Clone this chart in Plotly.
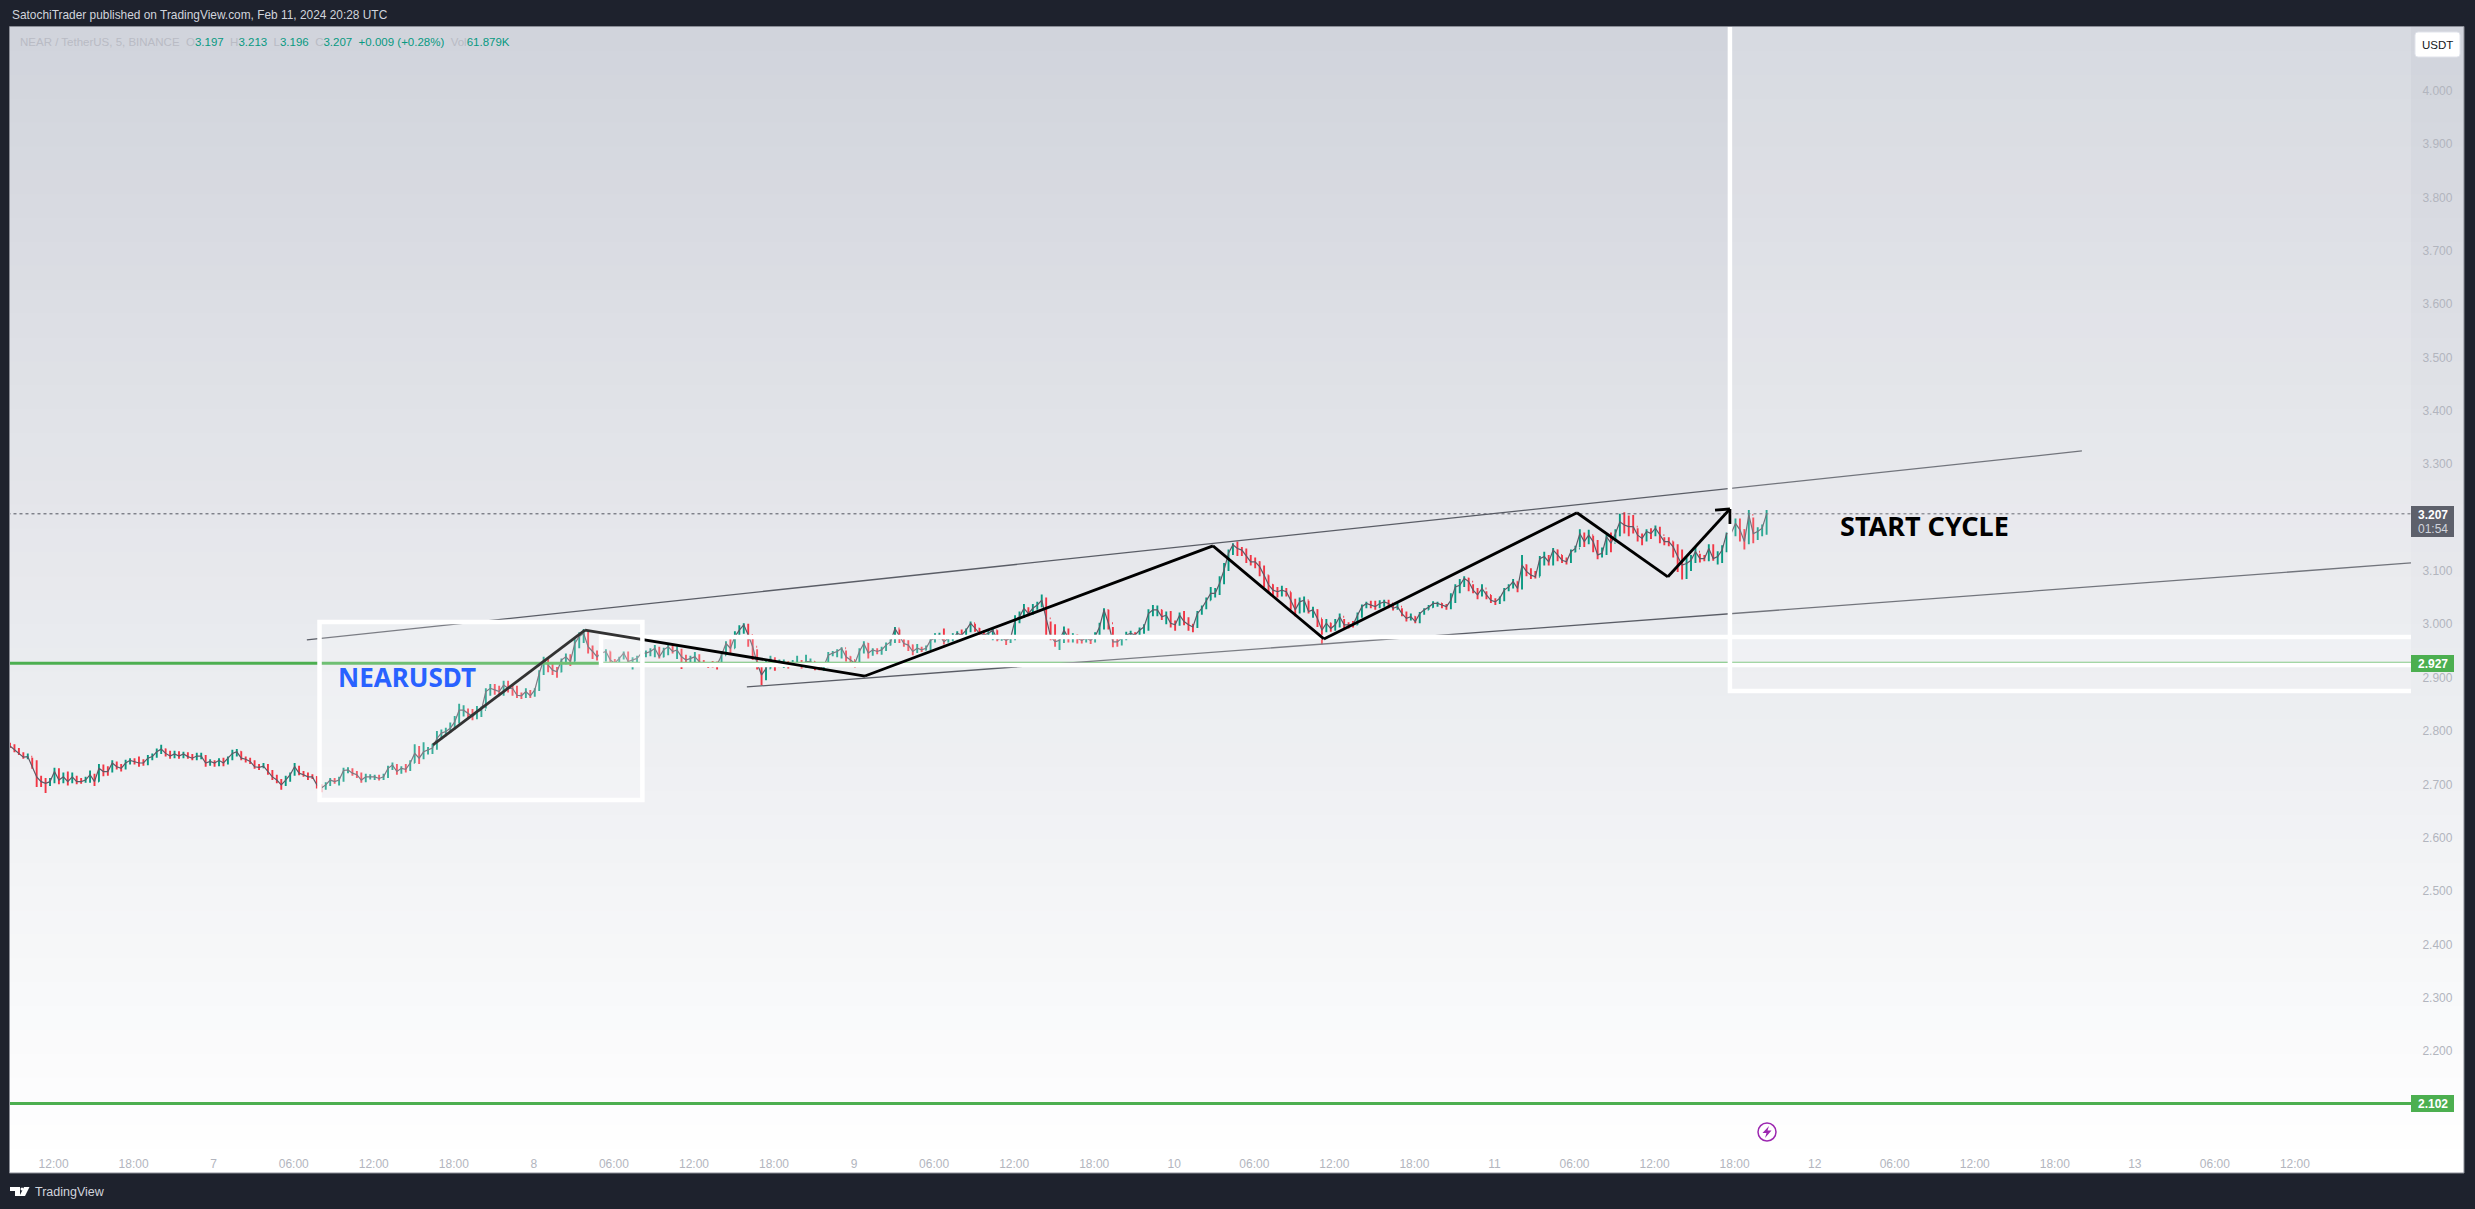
import pandas as pd
import plotly.graph_objects as go

# ---------- data (20-minute bars, estimated) ----------
bar_start = "2024-02-06 08:44"
first_open = 2.775
closes = [
 2.772,2.765,2.758,2.751,2.752,2.733,2.714,2.705,2.702,2.705,
 2.724,2.708,2.714,2.705,2.714,2.705,2.705,2.708,2.718,2.705,
 2.730,2.724,2.724,2.740,2.733,2.730,2.740,2.745,2.743,2.740,
 2.740,2.749,2.752,2.761,2.766,2.758,2.753,2.757,2.753,2.757,
 2.752,2.749,2.753,2.753,2.740,2.743,2.740,2.745,2.740,2.749,
 2.758,2.761,2.749,2.747,2.743,2.733,2.732,2.734,2.724,2.714,
 2.708,2.699,2.708,2.718,2.733,2.721,2.718,2.714,2.714,2.699,
 2.693,2.699,2.708,2.705,2.708,2.726,2.727,2.721,2.718,2.708,
 2.714,2.714,2.714,2.711,2.714,2.730,2.736,2.724,2.730,2.728,
 2.740,2.758,2.749,2.761,2.764,2.768,2.786,2.796,2.799,
 2.805,2.817,2.839,2.839,2.833,2.827,2.836,2.839,2.874,2.880,
 2.877,2.874,2.886,2.880,2.880,2.867,2.866,2.874,2.866,2.877,
 2.908,2.933,2.924,2.914,2.911,2.933,2.939,2.930,2.964,2.977,
 2.983,2.958,2.949,2.939,2.946,2.949,2.933,2.927,2.936,2.946,
 2.930,2.933,2.936,2.946,2.946,2.949,2.955,2.939,2.952,2.958,
 2.949,2.952,2.939,2.933,2.936,2.939,2.930,2.924,2.924,2.924,
 2.924,2.942,2.964,2.955,2.977,2.989,2.999,2.980,2.958,2.927,
 2.905,2.917,2.936,2.921,2.927,2.927,2.924,2.927,2.927,2.924,
 2.930,2.930,2.924,2.917,2.921,2.942,2.946,2.949,2.955,2.939,
 2.933,2.927,2.949,2.964,2.946,2.952,2.949,2.952,2.961,
 2.967,2.992,2.977,2.964,2.961,2.949,2.955,2.952,2.955,2.970,
 2.974,2.980,2.967,2.974,2.974,2.983,2.980,2.989,3.002,2.992,
 2.983,2.980,2.983,2.989,2.972,2.974,2.970,2.974,3.008,3.014,
 3.030,3.020,3.030,3.036,3.045,3.011,2.977,2.967,2.970,2.989,
 2.974,2.977,2.974,2.970,2.974,2.970,2.977,2.995,3.027,3.002,
 2.967,2.967,2.974,2.980,2.983,2.980,2.989,2.995,3.020,3.027,
 3.027,3.014,3.017,3.002,2.999,3.017,3.005,2.999,2.995,3.020,
 3.030,3.045,3.058,3.058,3.077,3.102,3.133,3.149,3.142,3.139,
 3.127,3.117,3.117,3.108,3.092,3.074,3.064,3.061,3.064,3.061,
 3.045,3.027,3.042,3.045,3.024,3.027,3.011,2.989,3.002,
 2.992,2.999,3.014,2.999,2.999,2.999,3.017,3.033,3.039,3.036,
 3.033,3.039,3.042,3.039,3.030,3.033,3.020,3.011,3.014,3.005,
 3.020,3.027,3.032,3.039,3.039,3.036,3.033,3.045,3.070,3.073,
 3.086,3.080,3.064,3.055,3.067,3.055,3.045,3.042,3.049,3.064,
 3.070,3.080,3.067,3.111,3.099,3.092,3.089,3.123,3.127,3.117,
 3.139,3.130,3.120,3.117,3.136,3.142,3.170,3.155,3.167,3.155,
 3.130,3.133,3.164,3.152,3.170,3.192,3.186,3.183,3.183,3.167,
 3.161,3.174,3.170,3.180,3.167,3.155,3.155,3.145,3.127,3.111,
 3.114,3.120,3.136,3.123,3.123,3.142,3.123,3.127,3.139,3.170,
 3.170,3.189,3.177,3.155,3.205,3.170,3.174,3.180,3.207,
]
highs = [
 2.778,2.775,2.768,2.760,2.758,2.750,2.745,2.716,2.712,2.712,
 2.731,2.730,2.722,2.724,2.722,2.716,2.712,2.714,2.726,2.720,
 2.738,2.737,2.734,2.745,2.743,2.738,2.746,2.749,2.749,2.752,
 2.747,2.755,2.758,2.767,2.774,2.767,2.763,2.763,2.762,2.761,
 2.760,2.757,2.759,2.759,2.755,2.747,2.745,2.749,2.750,2.752,
 2.765,2.766,2.762,2.752,2.750,2.745,2.738,2.740,2.738,2.727,
 2.718,2.710,2.716,2.722,2.740,2.735,2.725,2.722,2.719,2.715,
 2.700,2.704,2.712,2.712,2.714,2.731,2.732,2.730,2.725,2.722,
 2.720,2.719,2.718,2.718,2.720,2.735,2.741,2.738,2.734,2.738,
 2.745,2.775,2.772,2.779,2.770,2.776,2.800,2.803,2.806,
 2.816,2.828,2.851,2.848,2.842,2.841,2.847,2.846,2.880,2.888,
 2.888,2.885,2.894,2.894,2.887,2.885,2.872,2.880,2.877,2.880,
 2.914,2.939,2.935,2.929,2.920,2.936,2.945,2.944,2.972,2.985,
 2.991,2.986,2.960,2.951,2.950,2.953,2.949,2.935,2.939,2.949,
 2.949,2.938,2.941,2.950,2.951,2.955,2.961,2.958,2.956,2.963,
 2.961,2.959,2.954,2.943,2.941,2.948,2.944,2.933,2.929,2.931,
 2.930,2.950,2.968,2.972,2.987,2.998,3.002,3.001,2.975,2.953,
 2.927,2.931,2.941,2.938,2.934,2.934,2.931,2.933,2.941,2.933,
 2.943,2.936,2.930,2.927,2.928,2.948,2.950,2.953,2.957,2.951,
 2.940,2.932,2.955,2.968,2.965,2.955,2.955,2.958,2.966,
 2.972,2.995,2.990,2.972,2.970,2.962,2.963,2.958,2.960,2.975,
 2.983,2.984,2.992,2.979,2.983,2.987,2.990,2.992,3.005,3.001,
 2.993,2.989,2.987,2.993,2.989,2.979,2.978,2.980,3.017,3.024,
 3.038,3.032,3.038,3.042,3.056,3.050,3.005,3.000,2.980,2.996,
 2.992,2.983,2.981,2.980,2.980,2.978,2.985,3.003,3.030,3.027,
 2.995,2.975,2.977,2.986,2.988,2.985,2.994,3.000,3.028,3.036,
 3.035,3.027,3.024,3.025,3.007,3.022,3.025,3.013,3.000,3.025,
 3.035,3.050,3.070,3.068,3.090,3.115,3.140,3.152,3.155,3.145,
 3.142,3.130,3.125,3.118,3.110,3.092,3.075,3.070,3.072,3.068,
 3.060,3.048,3.050,3.052,3.044,3.033,3.028,3.010,3.010,
 3.003,3.010,3.020,3.010,3.004,3.006,3.022,3.037,3.042,3.044,
 3.044,3.045,3.046,3.046,3.040,3.040,3.030,3.024,3.020,3.015,
 3.023,3.030,3.036,3.043,3.042,3.040,3.038,3.058,3.075,3.085,
 3.090,3.087,3.075,3.068,3.075,3.062,3.055,3.049,3.052,3.068,
 3.075,3.085,3.080,3.130,3.112,3.105,3.100,3.128,3.136,3.130,
 3.143,3.140,3.130,3.125,3.140,3.147,3.178,3.172,3.177,3.166,
 3.158,3.144,3.168,3.172,3.178,3.207,3.210,3.204,3.205,3.180,
 3.170,3.178,3.180,3.185,3.183,3.163,3.163,3.155,3.150,3.140,
 3.125,3.130,3.144,3.132,3.130,3.150,3.150,3.137,3.148,3.172,
 3.178,3.198,3.198,3.178,3.214,3.200,3.182,3.187,3.214,
]
lows = [
 2.768,2.760,2.755,2.748,2.747,2.729,2.695,2.695,2.684,2.697,
 2.702,2.700,2.702,2.698,2.702,2.700,2.701,2.703,2.703,2.697,
 2.705,2.715,2.716,2.722,2.728,2.724,2.728,2.737,2.737,2.733,
 2.735,2.736,2.745,2.750,2.757,2.752,2.748,2.749,2.748,2.749,
 2.748,2.745,2.745,2.747,2.733,2.735,2.733,2.734,2.734,2.737,
 2.745,2.752,2.745,2.741,2.738,2.729,2.727,2.730,2.718,2.708,
 2.702,2.690,2.697,2.705,2.716,2.717,2.714,2.708,2.710,2.692,
 2.685,2.690,2.697,2.701,2.698,2.705,2.721,2.716,2.712,2.703,
 2.704,2.709,2.708,2.707,2.708,2.712,2.727,2.718,2.720,2.722,
 2.725,2.740,2.738,2.747,2.756,2.757,2.765,2.784,2.790,
 2.796,2.803,2.814,2.827,2.824,2.820,2.822,2.826,2.842,2.866,
 2.868,2.865,2.866,2.872,2.866,2.862,2.860,2.862,2.862,2.864,
 2.875,2.905,2.910,2.905,2.900,2.910,2.925,2.922,2.930,2.955,
 2.965,2.945,2.935,2.932,2.935,2.930,2.924,2.922,2.924,2.934,
 2.922,2.915,2.925,2.930,2.938,2.940,2.938,2.936,2.938,2.942,
 2.945,2.935,2.916,2.925,2.928,2.928,2.921,2.920,2.918,2.919,
 2.915,2.925,2.942,2.945,2.955,2.975,2.982,2.958,2.933,2.915,
 2.886,2.895,2.917,2.913,2.920,2.918,2.917,2.920,2.920,2.917,
 2.918,2.920,2.914,2.914,2.913,2.920,2.940,2.938,2.936,2.930,
 2.925,2.919,2.925,2.945,2.936,2.941,2.944,2.943,2.950,
 2.960,2.965,2.965,2.958,2.950,2.942,2.946,2.948,2.951,2.952,
 2.966,2.972,2.962,2.966,2.968,2.972,2.973,2.978,2.985,2.986,
 2.978,2.972,2.975,2.970,2.968,2.969,2.961,2.965,2.970,3.002,
 3.012,3.015,3.018,3.027,3.032,2.977,2.970,2.958,2.952,2.965,
 2.966,2.966,2.964,2.964,2.966,2.963,2.966,2.975,2.990,2.990,
 2.957,2.958,2.960,2.970,2.975,2.973,2.974,2.982,2.988,3.015,
 3.015,3.008,3.000,2.994,2.988,2.997,2.998,2.988,2.985,2.993,
 3.018,3.028,3.045,3.050,3.055,3.075,3.100,3.130,3.128,3.128,
 3.115,3.110,3.105,3.090,3.070,3.060,3.052,3.050,3.052,3.052,
 3.027,3.015,3.020,3.022,3.020,3.012,2.995,2.962,2.985,
 2.986,2.988,2.994,2.992,2.992,2.994,2.999,3.012,3.030,3.030,
 3.027,3.030,3.033,3.030,3.026,3.027,3.015,3.005,3.007,3.002,
 3.002,3.018,3.027,3.031,3.033,3.030,3.027,3.028,3.040,3.058,
 3.070,3.062,3.058,3.047,3.052,3.047,3.040,3.036,3.038,3.043,
 3.062,3.067,3.060,3.065,3.090,3.085,3.086,3.090,3.110,3.110,
 3.110,3.118,3.115,3.112,3.115,3.135,3.145,3.145,3.150,3.135,
 3.122,3.125,3.130,3.135,3.155,3.165,3.170,3.165,3.170,3.155,
 3.148,3.155,3.160,3.165,3.152,3.148,3.146,3.125,3.098,3.084,
 3.085,3.100,3.115,3.116,3.118,3.118,3.119,3.112,3.115,3.135,
 3.158,3.165,3.155,3.140,3.150,3.152,3.158,3.165,3.168,
]
zigzag_times = ["2024-02-07 16:26","2024-02-08 03:50","2024-02-09 00:49","2024-02-10 02:54",
                "2024-02-10 11:13","2024-02-11 06:11","2024-02-11 13:00","2024-02-11 17:39"]
zigzag_prices = [2.774,2.989,2.903,3.147,2.9725,3.209,3.089,3.216]
arrow_head_times = ["2024-02-11 16:32","2024-02-11 17:39"]
arrow_head_prices = [3.214,3.188]
upper_trend_times = ["2024-02-07 06:59","2024-02-12 20:02"]
upper_trend_prices = [2.9706,3.3248]
lower_trend_times = ["2024-02-08 15:58","2024-02-13 20:42"]
lower_trend_prices = [2.8825,3.1149]
level_prices = [2.927,2.102]
last_price = 3.207
box1_times, box1_prices = ["2024-02-07 07:56","2024-02-08 08:08"], [2.6707,3.0043]
box2_times, box2_prices = ["2024-02-08 05:02","2024-02-15 00:00"], [2.9237,2.9762]
box3_times, box3_prices = ["2024-02-11 17:39","2024-02-15 00:00"], [2.875,4.5]
x_ticks = ["2024-02-06 12:00","2024-02-06 18:00","2024-02-07 00:00","2024-02-07 06:00","2024-02-07 12:00",
           "2024-02-07 18:00","2024-02-08 00:00","2024-02-08 06:00","2024-02-08 12:00","2024-02-08 18:00",
           "2024-02-09 00:00","2024-02-09 06:00","2024-02-09 12:00","2024-02-09 18:00","2024-02-10 00:00",
           "2024-02-10 06:00","2024-02-10 12:00","2024-02-10 18:00","2024-02-11 00:00","2024-02-11 06:00",
           "2024-02-11 12:00","2024-02-11 18:00","2024-02-12 00:00","2024-02-12 06:00","2024-02-12 12:00",
           "2024-02-12 18:00","2024-02-13 00:00","2024-02-13 06:00","2024-02-13 12:00"]
x_labels = ["12:00","18:00","7","06:00","12:00","18:00","8","06:00","12:00","18:00","9","06:00","12:00","18:00",
            "10","06:00","12:00","18:00","11","06:00","12:00","18:00","12","06:00","12:00","18:00","13","06:00","12:00"]
y_ticks = [2.2,2.3,2.4,2.5,2.6,2.7,2.8,2.9,3.0,3.1,3.3,3.4,3.5,3.6,3.7,3.8,3.9,4.0]

# ---------- layout in window pixels ----------
W, H = 2475, 1209
L, R, T, B = 10, 2411, 27, 1143
FRAME_R, FRAME_B = 2464, 1173
px = lambda x: (x - L) / (R - L)
py = lambda y: (B - y) / (B - T)
FONT = "Liberation Sans"
DARK = "#1e222d"

times = pd.date_range(bar_start, periods=len(closes), freq="20min")
opens = [first_open] + closes[:-1]

fig = go.Figure()
# thin joining line through the closes: the dense 5-minute texture reads as grey between bars
fig.add_trace(go.Scatter(x=times, y=closes, mode="lines", line=dict(color="#5f5a66", width=1.2),
                         hoverinfo="skip", showlegend=False))
fig.add_trace(go.Ohlc(
    x=times, open=opens, high=highs, low=lows, close=closes, tickwidth=0.2,
    increasing=dict(line=dict(color="#089981", width=1.9)),
    decreasing=dict(line=dict(color="#f23645", width=1.9)),
    hoverinfo="skip", showlegend=False))

shapes = []
# background gradient
levels = 48
for i in range(levels):
    f = i / (levels - 1)
    c = (round(209 + 46 * f), round(212 + 43 * f), round(220 + 35 * f))
    y0 = T + (FRAME_B - T) * i / levels
    shapes.append(dict(type="rect", xref="paper", yref="paper", layer="below",
                       x0=px(L), x1=px(FRAME_R), y0=py(y0), y1=py(FRAME_B),
                       line=dict(width=0), fillcolor=f"rgb{c}"))
shapes.append(dict(type="rect", xref="paper", yref="paper", layer="below",
                   x0=px(L - .5), x1=px(FRAME_R), y0=py(T - .5), y1=py(FRAME_B),
                   line=dict(width=1, color="#8a8d96"), fillcolor="rgba(0,0,0,0)"))

def seg(t0, p0, t1, p1, color, width, dash=None):
    d = dict(color=color, width=width)
    if dash:
        d["dash"] = dash
    return dict(type="line", xref="x", yref="y", x0=t0, x1=t1, y0=p0, y1=p1, line=d)

def box(ts, ps, alpha):
    return dict(type="rect", xref="x", yref="y", x0=ts[0], x1=ts[1], y0=ps[0], y1=ps[1],
                line=dict(color="#ffffff", width=4.5), fillcolor=f"rgba(255,255,255,{alpha})")

for lv in level_prices:
    shapes.append(seg("2024-02-06 00:00", lv, "2024-02-15 00:00", lv, "#4caf50", 3))
shapes.append(seg("2024-02-06 00:00", last_price, "2024-02-15 00:00", last_price, "#50535e", 1, "dot"))
shapes.append(seg(upper_trend_times[0], upper_trend_prices[0], upper_trend_times[1], upper_trend_prices[1], "#5a5d66", 1.3))
shapes.append(seg(lower_trend_times[0], lower_trend_prices[0], lower_trend_times[1], lower_trend_prices[1], "#5a5d66", 1.3))
shapes.append(box(box2_times, box2_prices, 0.2))
shapes.append(box(box3_times, box3_prices, 0.15))
for i in range(len(zigzag_times) - 1):
    shapes.append(seg(zigzag_times[i], zigzag_prices[i], zigzag_times[i + 1], zigzag_prices[i + 1], "#000000", 2.8))
shapes.append(box(box1_times, box1_prices, 0.2))
for t, p in zip(arrow_head_times, arrow_head_prices):
    shapes.append(seg(t, p, zigzag_times[-1], zigzag_prices[-1], "#000000", 2.8))

def rect_px(x0, y0, x1, y1, color):
    shapes.append(dict(type="rect", xref="paper", yref="paper", x0=px(x0), x1=px(x1), y0=py(y1), y1=py(y0),
                       line=dict(width=0), fillcolor=color))

def poly_px(points, color):
    p = "M" + " L".join(f"{px(x):.6f},{py(y):.6f}" for x, y in points) + " Z"
    shapes.append(dict(type="path", xref="paper", yref="paper", path=p, line=dict(width=0), fillcolor=color))

# right-hand price labels
rect_px(2411, 506, 2454, 537, "#5d606b")
rect_px(2411, 655, 2454, 672, "#4caf50")
rect_px(2411, 1095, 2454, 1112, "#4caf50")
# USDT button
r = 3
shapes.append(dict(type="path", xref="paper", yref="paper", line=dict(width=1, color="#e0e3eb"), fillcolor="#ffffff",
    path=(f"M{px(2415+r)},{py(32)} L{px(2460-r)},{py(32)} Q{px(2460)},{py(32)} {px(2460)},{py(32+r)} "
          f"L{px(2460)},{py(57-r)} Q{px(2460)},{py(57)} {px(2460-r)},{py(57)} L{px(2415+r)},{py(57)} "
          f"Q{px(2415)},{py(57)} {px(2415)},{py(57-r)} L{px(2415)},{py(32+r)} Q{px(2415)},{py(32)} {px(2415+r)},{py(32)} Z")))
# lightning marker
shapes.append(dict(type="circle", xref="paper", yref="paper", x0=px(1758), x1=px(1776), y0=py(1141), y1=py(1123),
                   line=dict(color="#9c27b0", width=1.5), fillcolor="rgba(255,255,255,0)"))
poly_px([(1769, 1126), (1762.5, 1133), (1766.5, 1133), (1765, 1138), (1771.5, 1130.5), (1767.5, 1130.5)], "#9c27b0")
# TradingView logo
poly_px([(10, 1187), (20, 1187), (20, 1196), (15, 1196), (15, 1191), (10, 1191)], "#ffffff")
poly_px([(24, 1187), (29.5, 1187), (25, 1196), (19.5, 1196)], "#ffffff")
shapes.append(dict(type="circle", xref="paper", yref="paper", x0=px(20.5), x1=px(23.5), y0=py(1190.5), y1=py(1187.5),
                   line=dict(width=0), fillcolor="#ffffff"))

def txt(x, y, s, size, color, anchor="left", family=FONT):
    return dict(x=px(x), y=py(y), xref="paper", yref="paper", text=s, showarrow=False, xanchor=anchor, yanchor="middle",
                xshift=0, align=anchor, font=dict(family=family, size=size, color=color))

GV = "#089981"
GL = "#b9bbc4"
legend = (f'<span style="color:{GL}">NEAR / TetherUS, 5, BINANCE  O</span>3.197  <span style="color:{GL}">H</span>3.213  '
          f'<span style="color:{GL}">L</span>3.196  <span style="color:{GL}">C</span>3.207  +0.009 (+0.28%)  '
          f'<span style="color:{GL}">Vol</span>61.879K')
annotations = [
    txt(10, 15, "SatochiTrader published on TradingView.com, Feb 11, 2024 20:28 UTC", 11.9, "#d1d4dc"),
    txt(18, 42, legend, 11.5, GV),
    txt(2437.5, 44.5, "USDT", 11.5, "#131722", "center"),
    txt(2432.5, 515, "<b>3.207</b>", 12, "#ffffff", "center"),
    txt(2432.5, 529, "01:54", 12, "#d1d4dc", "center"),
    txt(2432.5, 663.5, "<b>2.927</b>", 12, "#ffffff", "center"),
    txt(2432.5, 1103.5, "<b>2.102</b>", 12, "#ffffff", "center"),
    txt(336, 677, "<b>NEARUSDT</b>", 26, "#2962ff", family="Noto Sans"),
    txt(1838, 525, "<b>START CYCLE</b>", 27, "#000000", family="Noto Sans"),
    txt(33, 1192, "TradingView", 12.5, "#d1d4dc"),
]

fig.update_layout(
    width=W, height=H, autosize=False,
    margin=dict(l=L, r=W - R, t=T, b=H - B, pad=0),
    paper_bgcolor=DARK, plot_bgcolor="rgba(0,0,0,0)",
    shapes=shapes, annotations=annotations, showlegend=False, dragmode=False,
    font=dict(family=FONT, size=12, color="#b2b5be"),
    xaxis=dict(type="date", range=["2024-02-06 08:44", "2024-02-13 20:42"], rangeslider=dict(visible=False),
               tickmode="array", tickvals=x_ticks, ticktext=x_labels, tickangle=0,
               showgrid=False, zeroline=False, showline=False, ticks="outside", ticklen=10,
               tickcolor="rgba(0,0,0,0)", tickfont=dict(family=FONT, size=12, color="#b2b5be")),
    yaxis=dict(side="right", range=[2.0278, 4.1194], tickmode="array", tickvals=y_ticks, tickformat=".3f",
               showgrid=False, zeroline=False, showline=False, ticks="outside", ticklen=8,
               tickcolor="rgba(0,0,0,0)", tickfont=dict(family=FONT, size=12, color="#b2b5be")),
)
fig.write_html("out.html", config=dict(displayModeBar=False, staticPlot=True),
               post_script="document.body.style.margin='0';document.body.style.background='#1e222d';document.body.style.overflow='hidden';")
